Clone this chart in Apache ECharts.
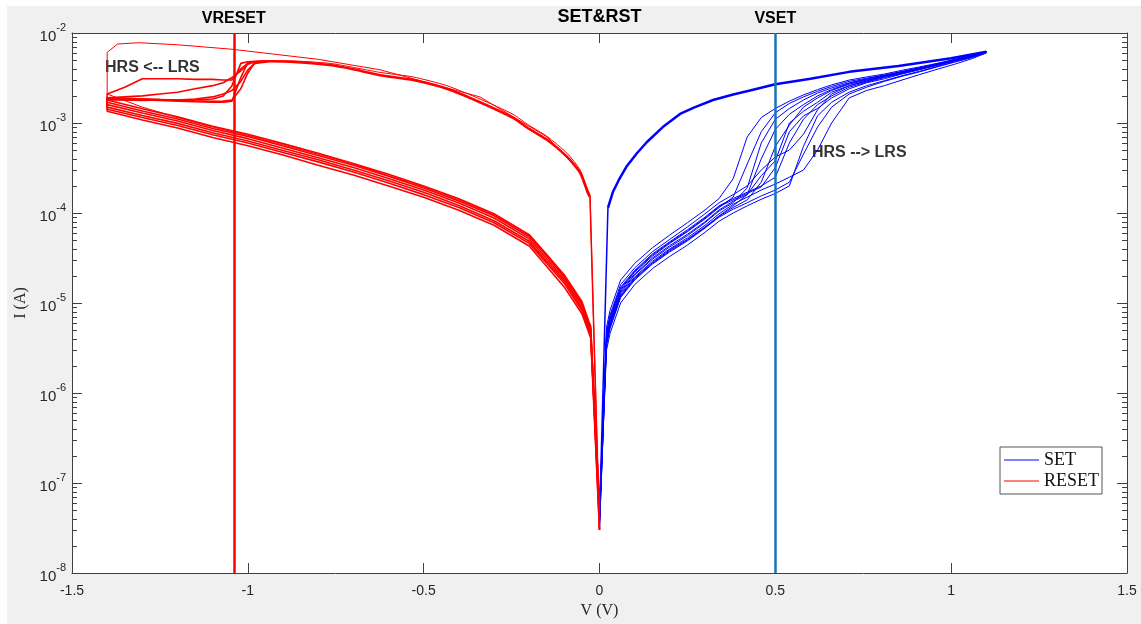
<!DOCTYPE html>
<html>
<head>
<meta charset="utf-8">
<title>SET &amp; RESET I-V</title>
<script src="https://cdn.jsdelivr.net/npm/echarts@6/dist/echarts.min.js"></script>
<style>
  html, body { margin: 0; padding: 0; background: #fff; }
  #ivChart { position: absolute; left: 7px; top: 6px; width: 1134px; height: 618px; }
</style>
</head>
<body>
<div id="ivChart"></div>
<script>
// switching voltages marked on the plot
var vReset = -1.045;
var vSet = 0.503;

// SET sweep 0 -> 1.1 V, forward (HRS -> LRS) part, one current array per cycle
var setFwdV = [0, 0.02, 0.03, 0.06, 0.10, 0.15, 0.20, 0.25, 0.30, 0.34, 0.38, 0.42, 0.46, 0.50, 0.54, 0.58, 0.62, 0.66, 0.71, 0.76, 0.81, 0.86, 0.91, 0.96, 1.01, 1.06, 1.10];
var setCycle1 = [3e-8, 4.2e-6, 6.5e-6, 1.4e-5, 2.2e-5, 3.3e-5, 4.6e-5, 6.2e-5, 8.6e-5, 1.15e-4, 1.5e-4, 3.5e-4, 8.0e-4, 1.3e-3, 1.65e-3, 1.95e-3, 2.25e-3, 2.55e-3, 2.9e-3, 3.15e-3, 3.4e-3, 3.75e-3, 4.1e-3, 4.55e-3, 5.05e-3, 5.6e-3, 6.2e-3];
var setCycle2 = [5e-8, 3.6e-6, 5.5e-6, 1.2e-5, 1.9e-5, 2.8e-5, 3.9e-5, 5.1e-5, 7.0e-5, 9.2e-5, 1.15e-4, 1.4e-4, 2.2e-4, 5.5e-4, 9.5e-4, 1.5e-3, 1.9e-3, 2.3e-3, 2.7e-3, 3.0e-3, 3.3e-3, 3.6e-3, 4.0e-3, 4.45e-3, 5.0e-3, 5.55e-3, 6.15e-3];
var setCycle3 = [4e-8, 4.5e-6, 7e-6, 1.5e-5, 2.3e-5, 3.5e-5, 4.8e-5, 6.5e-5, 9.0e-5, 1.2e-4, 1.45e-4, 1.7e-4, 2.0e-4, 2.5e-4, 6.0e-4, 1.1e-3, 1.6e-3, 2.0e-3, 2.5e-3, 2.85e-3, 3.2e-3, 3.55e-3, 3.95e-3, 4.4e-3, 4.95e-3, 5.5e-3, 6.1e-3];
var setCycle4 = [6e-8, 3.4e-6, 5.2e-6, 1.15e-5, 1.8e-5, 2.7e-5, 3.7e-5, 4.9e-5, 6.8e-5, 9.0e-5, 1.1e-4, 1.3e-4, 1.55e-4, 1.8e-4, 2.2e-4, 4.5e-4, 9.0e-4, 1.5e-3, 2.1e-3, 2.5e-3, 2.9e-3, 3.3e-3, 3.7e-3, 4.2e-3, 4.75e-3, 5.35e-3, 6.05e-3];
var setCycle5 = [5e-8, 3.8e-6, 5.8e-6, 1.25e-5, 1.95e-5, 2.9e-5, 4.0e-5, 5.3e-5, 7.3e-5, 9.8e-5, 1.25e-4, 1.5e-4, 1.8e-4, 2.1e-4, 2.5e-4, 3.0e-4, 5.0e-4, 1.0e-3, 1.9e-3, 2.3e-3, 2.6e-3, 3.0e-3, 3.45e-3, 3.95e-3, 4.5e-3, 5.2e-3, 6.0e-3];
var setCycle6 = [4e-8, 4.8e-6, 7.4e-6, 1.6e-5, 2.45e-5, 3.7e-5, 5.1e-5, 7.0e-5, 9.8e-5, 1.3e-4, 1.6e-4, 2.0e-4, 3.0e-4, 4.2e-4, 5.0e-4, 7.5e-4, 1.4e-3, 2.1e-3, 2.6e-3, 2.95e-3, 3.3e-3, 3.65e-3, 4.05e-3, 4.5e-3, 5.0e-3, 5.6e-3, 6.2e-3];
var setCycle7 = [3e-8, 3.9e-6, 6e-6, 1.3e-5, 2.05e-5, 3.05e-5, 4.2e-5, 5.6e-5, 7.8e-5, 1.05e-4, 1.3e-4, 1.9e-4, 6.0e-4, 1.1e-3, 1.45e-3, 1.8e-3, 2.15e-3, 2.45e-3, 2.8e-3, 3.1e-3, 3.4e-3, 3.7e-3, 4.1e-3, 4.5e-3, 5.0e-3, 5.6e-3, 6.2e-3];
var setCycle8 = [4.5e-8, 4.4e-6, 6.8e-6, 1.45e-5, 2.25e-5, 3.4e-5, 4.7e-5, 6.3e-5, 8.8e-5, 1.18e-4, 1.4e-4, 1.65e-4, 1.95e-4, 3.2e-4, 8.0e-4, 1.2e-3, 1.45e-3, 1.9e-3, 2.4e-3, 2.8e-3, 3.1e-3, 3.5e-3, 3.9e-3, 4.35e-3, 4.9e-3, 5.5e-3, 6.1e-3];
var setCycle9 = [3.5e-8, 3.5e-6, 5.4e-6, 1.18e-5, 1.85e-5, 2.75e-5, 3.8e-5, 5.0e-5, 6.9e-5, 9.3e-5, 1.2e-4, 1.6e-4, 4.0e-4, 8.5e-4, 1.25e-3, 1.6e-3, 2.0e-3, 2.35e-3, 2.75e-3, 3.05e-3, 3.35e-3, 3.7e-3, 4.05e-3, 4.5e-3, 5.0e-3, 5.6e-3, 6.2e-3];
var setCycle10 = [4e-8, 3.0e-6, 4.6e-6, 1.0e-5, 1.6e-5, 2.4e-5, 3.3e-5, 4.4e-5, 6.1e-5, 8.1e-5, 1.0e-4, 1.2e-4, 1.42e-4, 1.65e-4, 2.0e-4, 5.5e-4, 1.2e-3, 1.7e-3, 2.2e-3, 2.6e-3, 2.95e-3, 3.35e-3, 3.75e-3, 4.25e-3, 4.8e-3, 5.4e-3, 6.1e-3];
var setCycle11 = [5e-8, 5.4e-6, 8.3e-6, 1.8e-5, 2.75e-5, 4.1e-5, 5.7e-5, 7.8e-5, 1.08e-4, 1.45e-4, 2.4e-4, 7.0e-4, 1.15e-3, 1.45e-3, 1.75e-3, 2.05e-3, 2.35e-3, 2.65e-3, 3.0e-3, 3.25e-3, 3.5e-3, 3.85e-3, 4.2e-3, 4.6e-3, 5.1e-3, 5.65e-3, 6.2e-3];
var setCycle12 = [4e-8, 4.0e-6, 6.2e-6, 1.35e-5, 2.1e-5, 3.15e-5, 4.35e-5, 5.8e-5, 8.0e-5, 1.08e-4, 1.35e-4, 1.6e-4, 2.6e-4, 3.8e-4, 1.0e-3, 1.35e-3, 1.7e-3, 2.2e-3, 2.6e-3, 2.9e-3, 3.25e-3, 3.6e-3, 4.0e-3, 4.45e-3, 4.95e-3, 5.5e-3, 6.15e-3];

// SET return 1.1 -> 0 V (LRS)
var setRetV = [1.10, 1.00, 0.85, 0.71, 0.60, 0.50, 0.428, 0.38, 0.323, 0.27, 0.229, 0.18, 0.135, 0.107, 0.078, 0.055, 0.038, 0.024, 0];
var setRetI = [6.2e-3, 5.25e-3, 4.3e-3, 3.7e-3, 3.1e-3, 2.7e-3, 2.3e-3, 2.07e-3, 1.8e-3, 1.49e-3, 1.26e-3, 9.0e-4, 6.15e-4, 4.64e-4, 3.33e-4, 2.33e-4, 1.71e-4, 1.14e-4, 4e-8];

// RESET sweep 0 -> -1.4 V, LRS part before the switch
var resetLrsV = [0, -0.027, -0.033, -0.055, -0.092, -0.149, -0.20, -0.246, -0.34, -0.434, -0.53, -0.624, -0.70, -0.766, -0.88, -0.94];
var resetLrsI = [3e-8, 1.5e-4, 1.67e-4, 2.8e-4, 4.2e-4, 6.5e-4, 8.6e-4, 1.14e-3, 1.7e-3, 2.4e-3, 3.0e-3, 3.4e-3, 3.95e-3, 4.4e-3, 4.8e-3, 4.85e-3];
var resetLrsAltI = [5e-8, 1.6e-4, 1.8e-4, 3.0e-4, 4.6e-4, 7.1e-4, 9.4e-4, 1.25e-3, 1.85e-3, 2.6e-3, 3.25e-3, 3.65e-3, 4.15e-3, 4.6e-3, 4.9e-3, 4.9e-3];

// RESET switching part -0.94 -> -1.4 V, one array per cycle
var resetSwV = [-0.94, -0.98, -1.00, -1.02, -1.045, -1.07, -1.10, -1.15, -1.20, -1.25, -1.30, -1.35, -1.40];
var resetSw1 = [4.85e-3, 4.8e-3, 4.7e-3, 3.2e-3, 1.75e-3, 1.7e-3, 1.7e-3, 1.72e-3, 1.75e-3, 1.78e-3, 1.8e-3, 1.82e-3, 1.85e-3];
var resetSw2 = [4.85e-3, 4.7e-3, 3.6e-3, 2.4e-3, 1.8e-3, 1.75e-3, 1.74e-3, 1.76e-3, 1.8e-3, 1.82e-3, 1.84e-3, 1.86e-3, 1.9e-3];
var resetSw3 = [4.9e-3, 4.85e-3, 4.8e-3, 4.6e-3, 2.6e-3, 2.0e-3, 1.85e-3, 1.8e-3, 1.8e-3, 1.82e-3, 1.85e-3, 1.88e-3, 1.9e-3];
var resetSw4 = [4.85e-3, 4.8e-3, 4.5e-3, 3.8e-3, 3.2e-3, 2.8e-3, 2.6e-3, 2.4e-3, 2.2e-3, 2.1e-3, 2.0e-3, 1.95e-3, 1.9e-3];
var resetSw5 = [4.9e-3, 4.8e-3, 4.6e-3, 4.0e-3, 3.0e-3, 3.0e-3, 3.05e-3, 3.05e-3, 3.1e-3, 3.1e-3, 3.1e-3, 2.5e-3, 2.1e-3];
var resetSw6 = [4.8e-3, 4.6e-3, 3.9e-3, 2.9e-3, 2.3e-3, 2.1e-3, 1.95e-3, 1.85e-3, 1.8e-3, 1.8e-3, 1.78e-3, 1.8e-3, 1.8e-3];

// RESET return -1.4 -> 0 V (HRS), one array per cycle
var resetHrsV = [-1.40, -1.30, -1.20, -1.10, -1.00, -0.90, -0.80, -0.70, -0.60, -0.50, -0.40, -0.30, -0.20, -0.15, -0.10, -0.05, -0.03, -0.025, 0];
var resetHrs1 = [1.5e-3, 1.21e-3, 9.9e-4, 7.8e-4, 6.3e-4, 4.95e-4, 3.9e-4, 3.0e-4, 2.28e-4, 1.7e-4, 1.21e-4, 8.2e-5, 4.85e-5, 2.9e-5, 1.75e-5, 8.7e-6, 5.2e-6, 4.6e-6, 5e-8];
var resetHrs2 = [1.6e-3, 1.29e-3, 1.05e-3, 8.25e-4, 6.7e-4, 5.25e-4, 4.1e-4, 3.2e-4, 2.42e-4, 1.8e-4, 1.29e-4, 8.8e-5, 5.15e-5, 3.1e-5, 1.85e-5, 9.3e-6, 5.6e-6, 5.0e-6, 3e-8];
var resetHrs3 = [1.7e-3, 1.36e-3, 1.11e-3, 8.7e-4, 7.1e-4, 5.55e-4, 4.35e-4, 3.4e-4, 2.56e-4, 1.9e-4, 1.36e-4, 9.3e-5, 5.45e-5, 3.3e-5, 1.95e-5, 9.8e-6, 5.9e-6, 5.2e-6, 6e-8];
var resetHrs4 = [1.8e-3, 1.44e-3, 1.17e-3, 9.2e-4, 7.5e-4, 5.9e-4, 4.6e-4, 3.55e-4, 2.7e-4, 2.0e-4, 1.44e-4, 9.8e-5, 5.75e-5, 3.45e-5, 2.05e-5, 1.04e-5, 6.2e-6, 5.5e-6, 4e-8];
var resetHrs5 = [1.42e-3, 1.15e-3, 9.4e-4, 7.4e-4, 6.0e-4, 4.7e-4, 3.7e-4, 2.85e-4, 2.15e-4, 1.6e-4, 1.15e-4, 7.8e-5, 4.6e-5, 2.75e-5, 1.65e-5, 8.2e-6, 5.0e-6, 4.4e-6, 4e-8];
var resetHrs6 = [1.35e-3, 1.08e-3, 8.8e-4, 6.9e-4, 5.6e-4, 4.4e-4, 3.4e-4, 2.65e-4, 2.0e-4, 1.5e-4, 1.07e-4, 7.3e-5, 4.3e-5, 2.55e-5, 1.5e-5, 7.6e-6, 4.6e-6, 4.1e-6, 3e-8];

// one cycle that stayed in LRS up to -1.4 V
var resetOddV = [0, -0.027, -0.055, -0.149, -0.34, -0.624, -0.80, -1.045, -1.20, -1.31, -1.37, -1.40, -1.40];
var resetOddI = [3e-8, 1.55e-4, 2.9e-4, 7.0e-4, 1.95e-3, 3.9e-3, 5.1e-3, 6.6e-3, 7.4e-3, 7.8e-3, 7.55e-3, 6.1e-3, 2.1e-3];
var resetOddHrs = [2.1e-3, 1.5e-3, 1.15e-3, 9.0e-4, 7.3e-4, 5.7e-4, 4.5e-4, 3.5e-4, 2.6e-4, 1.95e-4, 1.4e-4, 9.5e-5, 5.6e-5, 3.35e-5, 2.0e-5, 1.0e-5, 6.0e-6, 5.3e-6, 3e-8];

// text notes
var noteText = ['HRS <-- LRS', 'HRS --> LRS'];
var noteV = [-1.406, 0.604];
var noteI = [4.14e-3, 4.7e-4];

// log axis minor ticks
var tickDecades = [-8, -7, -6, -5, -4, -3];
var tickMantissas = [2, 3, 4, 5, 6, 7, 8, 9];

var BLUE = '#0000ff';
var RED = '#ff0000';
var AXIS = '#404040';

function pairs(vs, is) {
  return vs.map(function (v, k) {
    return [v, is[k]];
  });
}

function curve(name, color, data, width, smooth) {
  return {
    name: name,
    type: 'line',
    data: data,
    symbol: 'none',
    showSymbol: false,
    silent: true,
    smooth: smooth || false,
    lineStyle: { color: color, width: width },
    itemStyle: { color: color },
    emphasis: { disabled: true }
  };
}

var series = [];

[setCycle1, setCycle2, setCycle3, setCycle4, setCycle5, setCycle6, setCycle7, setCycle8, setCycle9, setCycle10, setCycle11, setCycle12].forEach(function (c) {
  series.push(curve('SET', BLUE, pairs(setFwdV, c), 1));
});
// LRS return: thick body, thinner drop to 0 V
var setRet = pairs(setRetV, setRetI);
series.push(curve('SET', BLUE, setRet.slice(0, setRet.length - 1), 2.5));
series.push(curve('SET', BLUE, setRet.slice(setRet.length - 2), 1.5));

series.push(curve('RESET', RED, pairs(resetOddV, resetOddI).concat(pairs(resetHrsV, resetOddHrs)), 1));
var swList = [resetSw1, resetSw2, resetSw3, resetSw4, resetSw5, resetSw6];
var hrsList = [resetHrs1, resetHrs2, resetHrs3, resetHrs4, resetHrs5, resetHrs6];
swList.forEach(function (sw, k) {
  series.push(curve('RESET', RED, pairs(resetSwV, sw).concat(pairs(resetHrsV, hrsList[k])), 1.6));
});
var resetLrs = pairs(resetLrsV, resetLrsI);
series.push(curve('RESET', RED, resetLrs.slice(1), 2.5, 0.2));
series.push(curve('RESET', RED, resetLrs.slice(0, 2), 1.5));
series.push(curve('RESET', RED, pairs(resetLrsV, resetLrsAltI).slice(1), 1, 0.2));

// VRESET / VSET lines
series.push({
  type: 'line',
  data: [],
  silent: true,
  markLine: {
    silent: true,
    symbol: 'none',
    animation: false,
    label: {
      show: true,
      position: 'end',
      distance: 6,
      color: '#000',
      fontFamily: 'Liberation Sans',
      fontWeight: 'bold',
      fontSize: 16
    },
    data: [
      { xAxis: vReset, label: { formatter: 'VRESET' }, lineStyle: { color: RED, width: 2.5, type: 'solid' } },
      { xAxis: vSet, label: { formatter: 'VSET' }, lineStyle: { color: '#1874b8', width: 2.5, type: 'solid' } }
    ]
  }
});

series.push({
  type: 'scatter',
  symbolSize: 0,
  silent: true,
  data: noteText.map(function (t, k) { return [noteV[k], noteI[k], t]; }),
  label: {
    show: true,
    position: 'right',
    distance: 0,
    formatter: function (p) { return p.value[2]; },
    color: '#000',
    fontFamily: 'Liberation Sans',
    fontWeight: 'bold',
    fontSize: 16
  }
});

var minorTicks = [];
tickDecades.forEach(function (d) {
  tickMantissas.forEach(function (m) {
    minorTicks.push([-1.5, m * Math.pow(10, d)]);
  });
});
series.push({
  type: 'custom',
  silent: true,
  data: minorTicks,
  renderItem: function (params, api) {
    var y = Math.round(api.coord([-1.5, api.value(1)])[1]) + 0.5;
    var x0 = params.coordSys.x;
    var x1 = x0 + params.coordSys.width;
    var st = { stroke: AXIS, lineWidth: 1 };
    return {
      type: 'group',
      children: [
        { type: 'line', shape: { x1: x0, y1: y, x2: x0 + 5, y2: y }, style: st },
        { type: 'line', shape: { x1: x1 - 5, y1: y, x2: x1, y2: y }, style: st }
      ]
    };
  }
});

var xAxisBase = {
  type: 'value',
  min: -1.5,
  max: 1.5,
  interval: 0.5,
  axisLine: { show: true, onZero: false, lineStyle: { color: AXIS, width: 1 } },
  axisTick: { show: true, inside: true, length: 10, lineStyle: { color: AXIS } },
  splitLine: { show: false }
};

var yAxisBase = {
  type: 'log',
  logBase: 10,
  min: 1e-8,
  max: 1e-2,
  splitNumber: 6,
  axisLine: { show: true, onZero: false, lineStyle: { color: AXIS, width: 1 } },
  axisTick: { show: true, inside: true, length: 10, lineStyle: { color: AXIS } },
  splitLine: { show: false }
};

var chart = echarts.init(document.getElementById('ivChart'));
chart.setOption({
  animation: false,
  backgroundColor: '#f0f0f0',
  textStyle: { fontFamily: 'Liberation Sans' },
  title: {
    text: 'SET&RST',
    left: 592.5,
    top: 2,
    padding: 0,
    textAlign: 'center',
    textStyle: { fontFamily: 'Liberation Sans', fontWeight: 'bold', fontSize: 18, color: '#000' }
  },
  legend: {
    data: ['SET', 'RESET'],
    orient: 'vertical',
    left: 993,
    top: 441,
    padding: [4, 3, 4, 4],
    itemGap: 3,
    itemWidth: 35,
    itemHeight: 1,
    icon: 'rect',
    backgroundColor: '#fff',
    borderColor: '#555',
    borderWidth: 1,
    borderRadius: 0,
    selectedMode: false,
    textStyle: { fontFamily: 'Liberation Serif', fontSize: 18, color: '#111' }
  },
  grid: { left: 65, right: 14, top: 27, bottom: 51, show: true, backgroundColor: '#fff', borderWidth: 0, outerBoundsMode: 'none' },
  xAxis: [
    Object.assign({}, xAxisBase, {
      position: 'bottom',
      name: 'V (V)',
      nameLocation: 'middle',
      nameGap: 28,
      nameTextStyle: { fontFamily: 'Liberation Serif', fontSize: 16, color: '#262626' },
      axisLabel: { color: '#262626', fontSize: 14, margin: 11, fontFamily: 'Liberation Sans' }
    }),
    Object.assign({}, xAxisBase, { position: 'top', axisLabel: { show: false } })
  ],
  yAxis: [
    Object.assign({}, yAxisBase, {
      position: 'left',
      name: 'I (A)',
      nameLocation: 'middle',
      nameGap: 40,
      nameTextStyle: { fontFamily: 'Liberation Serif', fontSize: 16, color: '#262626' },
      axisLabel: {
        margin: 6,
        formatter: function (v) {
          return '{b|10}{s|' + Math.round(Math.log10(v)) + '}';
        },
        rich: {
          b: { fontSize: 15, color: '#262626', verticalAlign: 'bottom', lineHeight: 22, fontFamily: 'Liberation Sans' },
          s: { fontSize: 11, color: '#262626', verticalAlign: 'top', lineHeight: 22, fontFamily: 'Liberation Sans' }
        }
      }
    }),
    Object.assign({}, yAxisBase, { position: 'right', axisLabel: { show: false } })
  ],
  tooltip: { show: false },
  series: series
});
</script>
</body>
</html>
